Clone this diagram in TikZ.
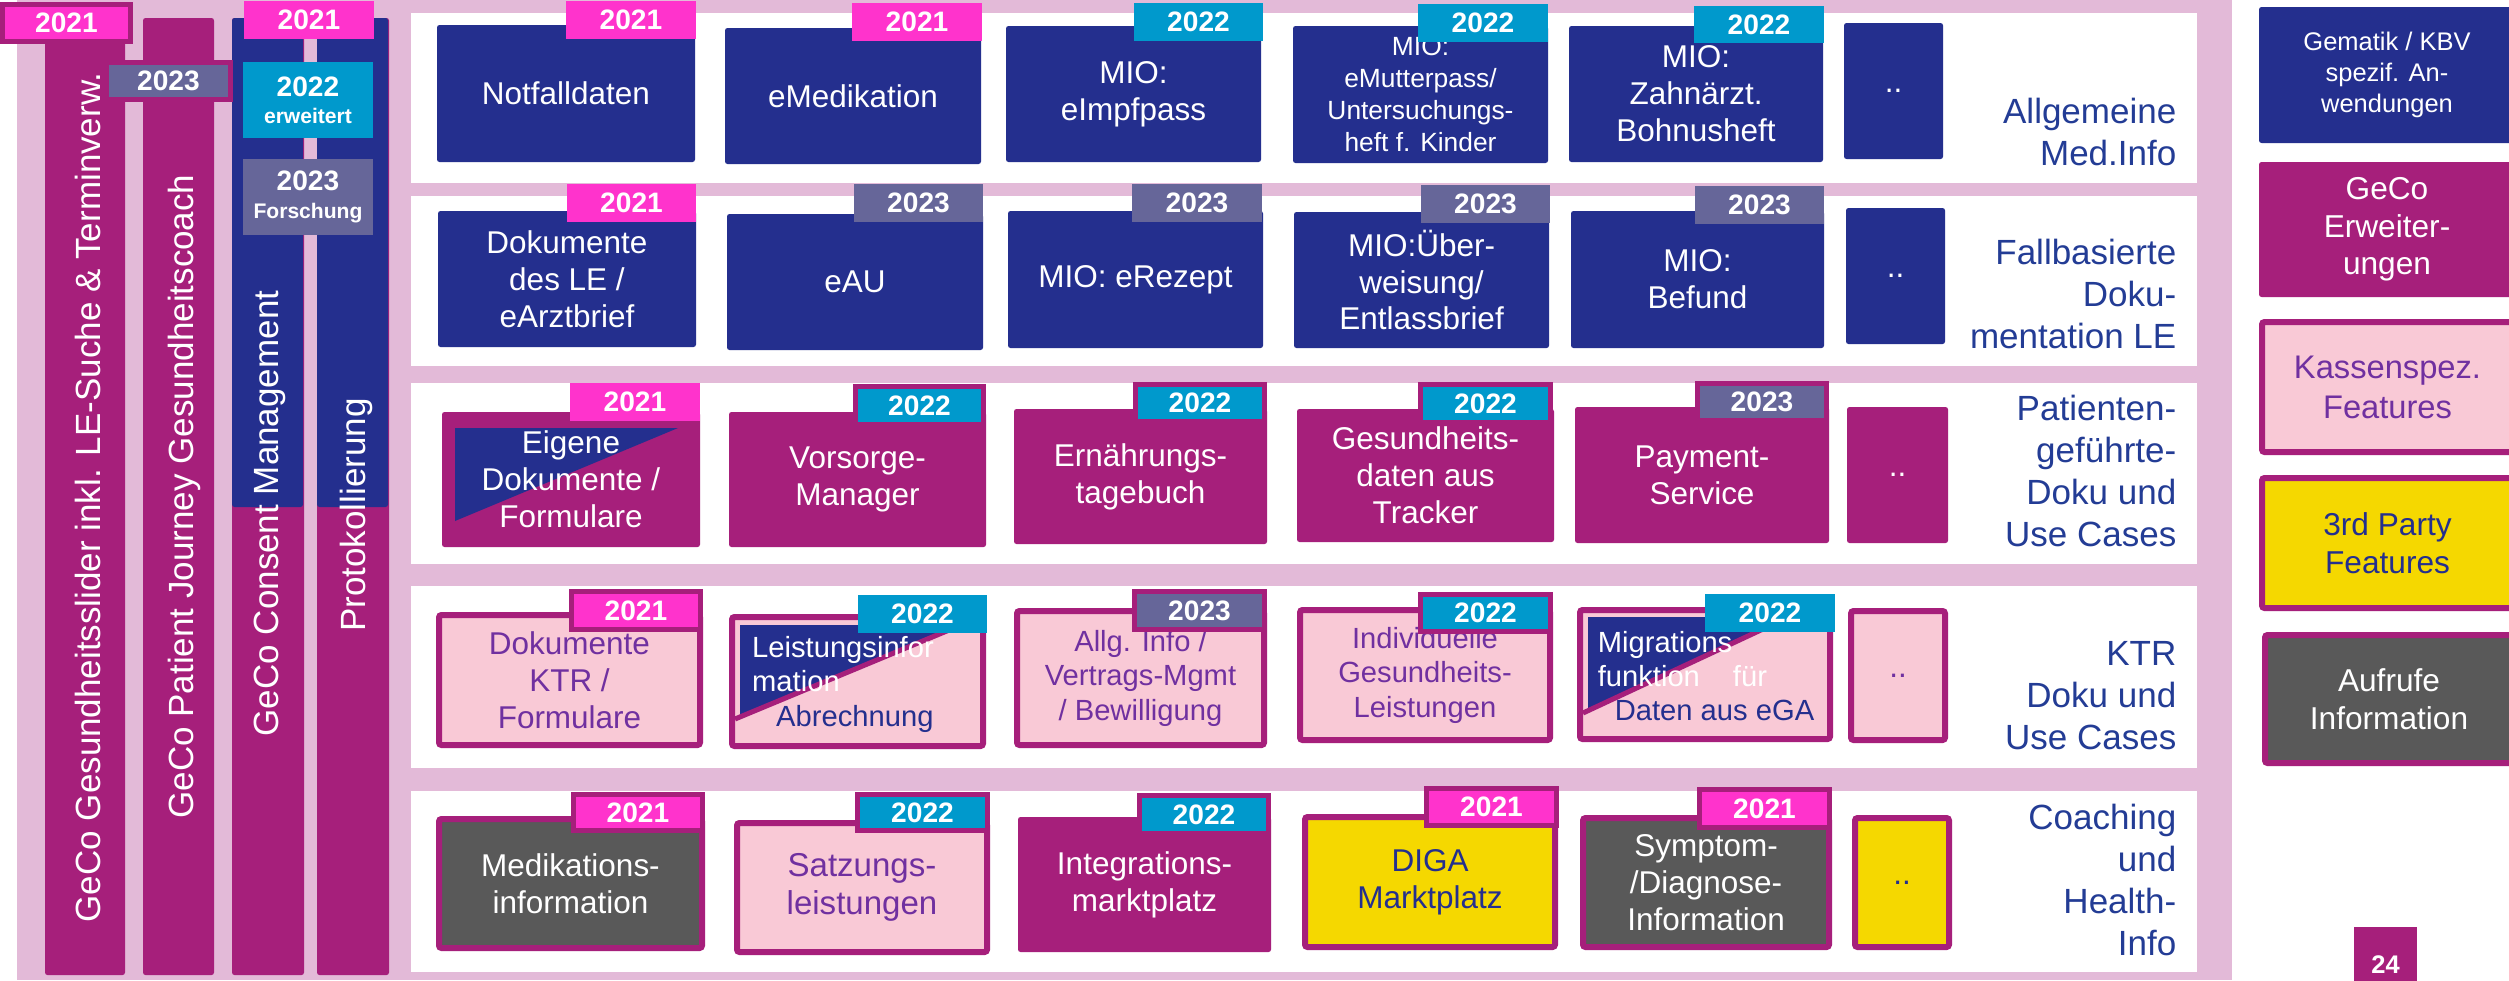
\documentclass[tikz,border=0pt]{standalone}
\usepackage{fontspec}
\setmainfont{Liberation Sans}
\usetikzlibrary{calc}
\definecolor{bgpink}{HTML}{E3BAD8}
\definecolor{cmag}{HTML}{A61F7B}
\definecolor{cblue}{HTML}{242F8E}
\definecolor{chot}{HTML}{FF33CC}
\definecolor{ccyan}{HTML}{0099CC}
\definecolor{cgp}{HTML}{666699}
\definecolor{cpk}{HTML}{F9C9D6}
\definecolor{cpur}{HTML}{7030A0}
\definecolor{cyel}{HTML}{F5D800}
\definecolor{cgry}{HTML}{595959}
\definecolor{clab}{HTML}{233C95}
\newcommand\fntRow{\fontsize{9.96}{11.95}\selectfont}
\newcommand\fntBox{\fontsize{8.96}{10.5}\selectfont}
\newcommand\fntSm{\fontsize{8.3}{9.8}\selectfont}
\newcommand\fntTiny{\fontsize{7.5}{9.1}\selectfont}
\newcommand\fntTag{\fontsize{8}{7.8}\selectfont\bfseries}
\newcommand\fntLeg{\fontsize{9}{10.7}\selectfont}
\newcommand\fntGem{\fontsize{7.25}{8.8}\selectfont}
% #1 name, #2 style, #3 border px, #4 x1, #5 y1, #6 x2, #7 y2, #8 text
\newcommand\bx[8]{\node[#2, line width={#3*0.1mm}, minimum width={(#6-#4-#3)*0.1mm}, minimum height={(#7-#5-#3)*0.1mm}] (#1) at ({(#4+#6)/2},{(#5+#7)/2}) {#8};}
\begin{document}
\begin{tikzpicture}[x=0.1mm,y=-0.1mm,
  plain/.style={inner sep=0pt, outer sep=0pt, draw=none},
  bxs/.style={inner sep=0pt, outer sep=0pt, rounded corners=0.25mm, align=center},
  blueb/.style={bxs, fill=cblue, text=white, font=\fntBox, draw=none},
  magb/.style={bxs, fill=cmag, text=white, font=\fntBox, draw=none},
  pkb/.style={bxs, fill=cpk, draw=cmag, text=cpur, font=\fntBox},
  yelb/.style={bxs, fill=cyel, draw=cmag, text=cblue, font=\fntBox},
  gryb/.style={bxs, fill=cgry, draw=cmag, text=white, font=\fntBox},
  tag/.style={inner sep=0pt, outer sep=0pt, text=white, font=\fntTag, align=center},
  t21/.style={tag, fill=chot},
  t22/.style={tag, fill=ccyan},
  t23/.style={tag, fill=cgp},
  barm/.style={bxs, fill=cmag, draw=none},
  barb/.style={bxs, fill=cblue, draw=none},
  vlab/.style={rotate=90, anchor=base, font=\fntRow, text=white, inner sep=0pt},
  rowlab/.style={anchor=east, align=right, font=\fntRow, text=clab, inner sep=0pt},
  band/.style={cmag, line width=0.5mm}]
\clip (0,0) rectangle (2509,980);
\fill[white] (0,0) rectangle (2509,980);
% background
\bx{bg}{plain, fill=bgpink}{0}{17}{0}{2232}{980}{}
% white rows
\bx{row1}{plain, fill=white}{0}{411}{13}{2197}{183}{}
\bx{row2}{plain, fill=white}{0}{411}{196}{2197}{366}{}
\bx{row3}{plain, fill=white}{0}{411}{383}{2197}{564}{}
\bx{row4}{plain, fill=white}{0}{411}{586}{2197}{768}{}
\bx{row5}{plain, fill=white}{0}{411}{791}{2197}{972}{}
% left bars
\bx{barA}{barm}{0}{45}{18}{125}{975}{}
\bx{barB}{barm}{0}{143}{18}{214}{975}{}
\bx{barC}{barm}{0}{232}{18}{304}{975}{}
\bx{barCb}{barb}{0}{232}{18}{303}{507}{}
\bx{barD}{barm}{0}{317}{18}{389}{975}{}
\bx{barDb}{barb}{0}{317}{18}{388}{507}{}
\node[vlab] (vA) at (100,497.5) {GeCo Gesundheitsslider inkl. LE-Suche \& Terminverw.};
\node[vlab] (vB) at (193,496.5) {GeCo Patient Journey Gesundheitscoach};
\node[vlab] (vC) at (278,513.5) {GeCo Consent Management};
\node[vlab] (vD) at (365,515) {Protokollierung};
% left tags
\bx{tagA}{t21,draw=cmag}{5}{0}{2}{133}{44}{2021}
\bx{tagB}{t23,draw=cmag}{5}{104}{60}{233}{102}{2023}
\bx{tagC}{t21}{0}{244}{1}{374}{39}{2021}
\bx{tagD}{t22}{0}{243}{62}{373}{138}{2022\\{\fontsize{6}{7}\selectfont erweitert}}
\bx{tagE}{t23}{0}{243}{159}{373}{235}{2023\\{\fontsize{6}{7}\selectfont Forschung}}
% row 1
\bx{A1}{blueb}{0}{437}{25}{695}{162}{Notfalldaten}
\bx{A2}{blueb}{0}{725}{28}{981}{164}{eMedikation}
\bx{A3}{blueb}{0}{1006}{26}{1261}{162}{MIO:\\eImpfpass}
\bx{A4}{blueb,font=\fntTiny}{0}{1293}{26}{1548}{163}{MIO:\\eMutterpass/\\Untersuchungs-\\heft f. Kinder}
\bx{A5}{blueb}{0}{1569}{26}{1823}{162}{MIO:\\Zahnärzt.\\Bohnusheft}
\bx{A6}{blueb}{0}{1844}{23}{1943}{159}{..}
\bx{A1y}{t21}{0}{566}{1}{696}{39}{2021}
\bx{A2y}{t21}{0}{852}{3}{982}{41}{2021}
\bx{A3y}{t22}{0}{1134}{3}{1263}{41}{2022}
\bx{A4y}{t22}{0}{1418}{4}{1548}{42}{2022}
\bx{A5y}{t22}{0}{1694}{6}{1824}{43}{2022}
\node[rowlab] (R1) at (2177,132) {Allgemeine\\Med.Info};
% row 2
\bx{B1}{blueb}{0}{438}{211}{696}{347}{Dokumente\\des LE /\\eArztbrief}
\bx{B2}{blueb}{0}{727}{214}{983}{350}{eAU}
\bx{B3}{blueb}{0}{1008}{211}{1263}{348}{MIO: eRezept}
\bx{B4}{blueb}{0}{1294}{212}{1549}{348}{MIO:Über-\\weisung/\\Entlassbrief}
\bx{B5}{blueb}{0}{1571}{211}{1824}{348}{MIO:\\Befund}
\bx{B6}{blueb}{0}{1846}{208}{1945}{344}{..}
\bx{B1y}{t21}{0}{567}{184}{696}{222}{2021}
\bx{B2y}{t23}{0}{854}{184}{983}{222}{2023}
\bx{B3y}{t23}{0}{1132}{184}{1262}{222}{2023}
\bx{B4y}{t23}{0}{1421}{185}{1550}{223}{2023}
\bx{B5y}{t23}{0}{1695}{186}{1824}{224}{2023}
\node[rowlab] (R2) at (2177,294) {Fallbasierte\\Doku-\\mentation LE};
% row 3
\bx{C1}{magb}{0}{442}{412}{700}{547}{}
\fill[cblue] (455,428) -- (678,428) -- (455,521) -- cycle;
\node[font=\fntBox, text=white, align=center, inner sep=0pt] (C1t) at (571,479) {Eigene\\Dokumente /\\Formulare};
\bx{C2}{magb}{0}{729}{412}{986}{547}{Vorsorge-\\Manager}
\bx{C3}{magb}{0}{1014}{409}{1267}{544}{Ernährungs-\\tagebuch}
\bx{C4}{magb}{0}{1297}{409}{1554}{542}{Gesundheits-\\daten aus\\Tracker}
\bx{C5}{magb}{0}{1575}{407}{1829}{543}{Payment-\\Service}
\bx{C6}{magb}{0}{1847}{407}{1948}{543}{..}
\bx{C1y}{t21}{0}{570}{383}{700}{421}{2021}
\bx{C2y}{t22,draw=cmag}{5}{853}{384}{986}{427}{2022}
\bx{C3y}{t22,draw=cmag}{5}{1133}{382}{1267}{424}{2022}
\bx{C4y}{t22,draw=cmag}{5}{1418}{382}{1553}{425}{2022}
\bx{C5y}{t23,draw=cmag}{5}{1695}{381}{1829}{423}{2023}
\node[rowlab] (R3) at (2177,471) {Patienten-\\geführte-\\Doku und\\Use Cases};
% row 4
\bx{D1}{pkb}{6}{436}{612}{703}{748}{Dokumente\\KTR /\\Formulare}
\bx{D2}{pkb}{6}{729}{614}{986}{749}{}
\fill[cblue] (740,625) -- (962,625) -- (740,717) -- cycle;
\draw[band] (966,623) -- (735,719);
\bx{D3}{pkb,font=\fntSm}{6}{1014}{608}{1267}{748}{Allg. Info /\\Vertrags-Mgmt\\/ Bewilligung}
\bx{D4}{pkb,font=\fntSm}{6}{1297}{607}{1553}{743}{Individuelle\\Gesundheits-\\Leistungen}
\bx{D5}{pkb}{6}{1577}{607}{1833}{742}{}
\fill[cblue] (1588,617) -- (1789,617) -- (1588,710) -- cycle;
\draw[band] (1793,615) -- (1583,713);
\bx{D6}{pkb}{6}{1848}{608}{1948}{743}{..}
\bx{D1y}{t21,draw=cmag}{5}{569}{589}{703}{632}{2021}
\bx{D2y}{t22}{0}{858}{595}{987}{633}{2022}
\bx{D3y}{t23,draw=cmag}{5}{1132}{589}{1267}{632}{2023}
\bx{D4y}{t22,draw=cmag}{5}{1418}{592}{1553}{634}{2022}
\bx{D5y}{t22}{0}{1705}{594}{1835}{632}{2022}
\node[font=\fntSm, align=left, text=white, inner sep=0pt] (D2t) at (843,684) {Leistungsinfor\\mation\\\hspace*{2.4mm}\textcolor{cblue}{Abrechnung}};
\node[font=\fntSm, align=left, text=white, inner sep=0pt] (D5t) at (1706,676) {Migrations\\funktion\hspace{3.3mm}für\\\hspace*{1.7mm}\textcolor{cblue}{Daten aus eGA}};
\node[rowlab] (R4) at (2177,696) {KTR\\Doku und\\Use Cases};
% row 5
\bx{E1}{gryb}{6}{436}{816}{705}{951}{Medikations-\\information}
\bx{E2}{pkb,font=\fontsize{9.4}{11}\selectfont}{6}{734}{820}{990}{955}{Satzungs-\\leistungen}
\bx{E3}{magb}{0}{1018}{817}{1271}{952}{Integrations-\\marktplatz}
\bx{E4}{yelb}{6}{1302}{814}{1558}{950}{DIGA\\Marktplatz}
\bx{E5}{gryb}{6}{1580}{815}{1832}{950}{Symptom-\\/Diagnose-\\Information}
\bx{E6}{yelb}{6}{1852}{815}{1952}{950}{..}
\bx{E1y}{t21,draw=cmag}{5}{571}{792}{705}{833}{2021}
\bx{E2y}{t22,draw=cmag}{5}{855}{792}{990}{833}{2022}
\bx{E3y}{t22,draw=cmag}{5}{1137}{793}{1271}{836}{2022}
\bx{E4y}{t21,draw=cmag}{5}{1424}{786}{1559}{828}{2021}
\bx{E5y}{t21,draw=cmag}{5}{1697}{787}{1832}{830}{2021}
\node[rowlab] (R5) at (2177,880) {Coaching\\und\\Health-\\Info};
% legend
\bx{L1}{blueb,font=\fntGem}{0}{2259}{7}{2515}{143}{Gematik / KBV\\spezif. An-\\wendungen}
\bx{L2}{magb,font=\fntLeg}{0}{2259}{162}{2515}{297}{GeCo\\Erweiter-\\ungen}
\bx{L3}{pkb,font=\fontsize{9.3}{11.4}\selectfont}{6}{2259}{319}{2516}{455}{Kassenspez.\\Features}
\bx{L4}{yelb,font=\fntLeg}{6}{2259}{475}{2516}{611}{3rd Party\\Features}
\bx{L5}{gryb,font=\fntLeg}{6}{2262}{632}{2516}{766}{Aufrufe\\Information}
\bx{pg}{plain, fill=cmag, text=white, font=\fontsize{7.25}{8}\selectfont\bfseries}{0}{2354}{927}{2417}{1003}{24}
\end{tikzpicture}
\end{document}
